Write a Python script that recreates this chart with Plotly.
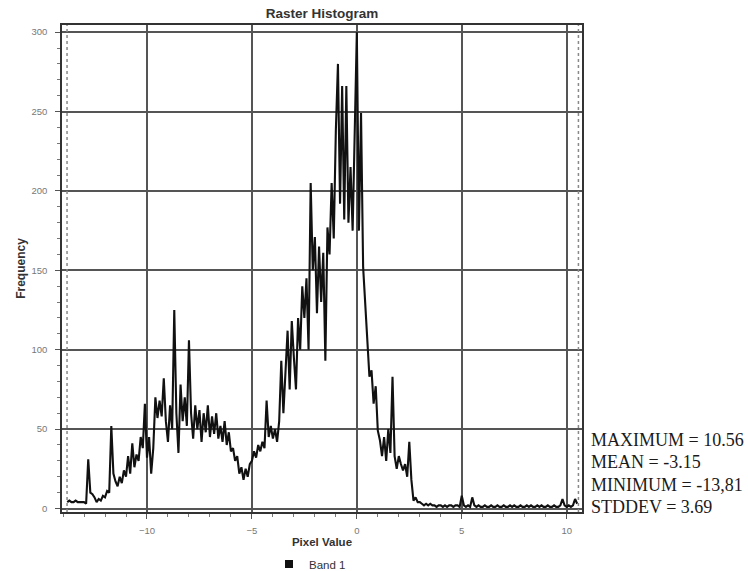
import plotly.graph_objects as go

# ---- data ----
bin_start = -13.8
bin_width = 0.1
frequency = [
    # -13.8 .. -13.1
    4, 5, 4, 4, 5, 4, 4, 4,
    # -13.0 .. -12.1
    4, 3, 31, 10, 9, 7, 4, 6, 5, 8,
    # -12.0 .. -11.1
    7, 11, 10, 52, 22, 17, 14, 20, 16, 24,
    # -11.0 .. -10.1
    20, 33, 22, 41, 26, 34, 30, 45, 38, 66,
    # -10.0 .. -9.1
    32, 45, 22, 38, 70, 57, 68, 58, 82, 55,
    # -9.0 .. -8.1
    42, 65, 50, 125, 60, 35, 78, 55, 70, 52,
    # -8.0 .. -7.1
    106, 60, 44, 65, 50, 62, 42, 60, 48, 65,
    # -7.0 .. -6.1
    45, 58, 47, 60, 44, 52, 42, 55, 40, 48,
    # -6.0 .. -5.1
    36, 38, 30, 33, 22, 26, 18, 25, 20, 28,
    # -5.0 .. -4.1
    30, 36, 32, 40, 36, 42, 38, 68, 45, 52,
    # -4.0 .. -3.1
    44, 50, 42, 55, 93, 60, 85, 112, 75, 118,
    # -3.0 .. -2.1
    95, 75, 120, 100, 140, 120, 145, 100, 205, 150,
    # -2.0 .. -1.1
    171, 123, 165, 130, 161, 93, 177, 160, 205, 170,
    # -1.0 .. -0.1
    238, 280, 192, 266, 182, 266, 180, 215, 175, 230,
    # 0.0 .. 0.9
    300, 175, 249, 152, 130, 108, 83, 87, 66, 77,
    # 1.0 .. 1.9
    49, 43, 33, 45, 30, 50, 35, 83, 33, 25,
    # 2.0 .. 2.9
    33, 28, 24, 28, 20, 42, 18, 5, 7, 4,
    # 3.0 .. 3.9
    4, 3, 2, 3, 2, 3, 2, 2, 1, 2,
    # 4.0 .. 4.9
    2, 1, 2, 1, 2, 2, 1, 2, 2, 1,
    # 5.0 .. 5.9
    8, 2, 1, 2, 1, 7, 2, 1, 2, 1,
    # 6.0 .. 6.9
    1, 2, 1, 1, 2, 1, 1, 2, 1, 1,
    # 7.0 .. 7.9
    2, 1, 1, 2, 1, 2, 1, 1, 2, 1,
    # 8.0 .. 8.9
    1, 2, 1, 2, 1, 1, 2, 1, 2, 1,
    # 9.0 .. 9.9
    1, 2, 1, 1, 2, 1, 1, 2, 6, 2,
    # 10.0 .. 10.5
    1, 2, 1, 2, 6, 3,
]
pixel_value = [round(bin_start + bin_width * i, 2) for i in range(len(frequency))]

stat_names = ["MAXIMUM", "MEAN", "MINIMUM", "STDDEV"]
stat_values = ["10.56", "-3.15", "-13,81", "3.69"]
band_min = -13.81
band_max = 10.56

x_ticks = [-10, -5, 0, 5, 10]
y_ticks = [0, 50, 100, 150, 200, 250, 300]

# ---- figure ----
fig = go.Figure()
fig.add_trace(go.Scatter(
    x=pixel_value, y=frequency, mode="lines",
    line=dict(color="#111111", width=2.1),
    showlegend=False, hoverinfo="x+y",
))
fig.add_trace(go.Scatter(
    x=[None], y=[None], mode="markers", name="Band 1",
    marker=dict(symbol="square", size=8, color="#111111"),
))

for v in (band_min, band_max):
    fig.add_shape(type="line", xref="x", yref="paper", x0=v, x1=v, y0=0, y1=1,
                  line=dict(color="#8a8a8a", width=1.5, dash="dot"))

L, R, T, B = 62, 748 - 582, 25, 571 - 512
plot_w, plot_h = 748 - L - R, 571 - T - B

def px_x(p):
    return (p - L) / plot_w

def px_y(p):
    return (571 - B - p) / plot_h

stat_y_px = [440, 462, 484.5, 506.5]
for name, val, yp in zip(stat_names, stat_values, stat_y_px):
    fig.add_annotation(
        xref="paper", yref="paper", x=px_x(589), y=px_y(yp),
        xanchor="left", yanchor="middle", showarrow=False,
        text=f"{name} = {val}",
        font=dict(family="Liberation Serif", size=18, color="#1a1a1a"),
    )

axis_common = dict(
    showline=True, linecolor="#333333", linewidth=1.5, mirror=True,
    showgrid=True, gridcolor="#555555", gridwidth=1.5, zeroline=False,
    ticks="outside", ticklen=5, tickwidth=1.2, tickcolor="#555555",
    tickfont=dict(family="Liberation Sans", size=9.5, color="#777777"),
)

fig.update_layout(
    width=748, height=571,
    margin=dict(l=L, r=R, t=T, b=B, autoexpand=False),
    paper_bgcolor="white", plot_bgcolor="white",
    title=dict(text="<b>Raster Histogram</b>", x=px_x(322), xref="paper",
               xanchor="center", y=1 - 13 / 571, yanchor="middle",
               font=dict(family="Liberation Sans", size=13.5, color="#333333")),
    xaxis=dict(
        range=[-14.05, 10.73], tickvals=x_ticks,
        minor=dict(dtick=1, tick0=0, ticks="outside", ticklen=3, tickcolor="#777777", showgrid=False),
        ticklabelstandoff=4,
        title=dict(text="<b>Pixel Value</b>", standoff=3,
                   font=dict(family="Liberation Sans", size=11.5, color="#333333")),
        **axis_common,
    ),
    yaxis=dict(
        range=[-2.2, 304.5], tickvals=y_ticks,
        minor=dict(dtick=10, tick0=0, ticks="outside", ticklen=3, tickcolor="#777777", showgrid=False),
        ticklabelstandoff=6,
        title=dict(text="<b>Frequency</b>", standoff=3,
                   font=dict(family="Liberation Sans", size=12, color="#333333")),
        **axis_common,
    ),
    legend=dict(orientation="h", x=px_x(269), xanchor="left", y=px_y(564), yanchor="middle",
                font=dict(family="Liberation Sans", size=11.5, color="#333333"),
                bgcolor="rgba(0,0,0,0)"),
    font=dict(family="Liberation Sans"),
)

fig.write_html("out.html")
